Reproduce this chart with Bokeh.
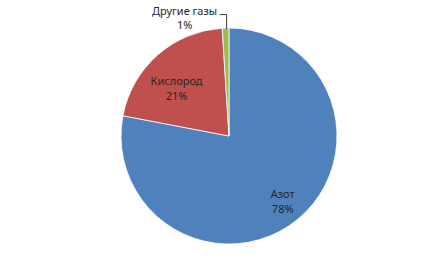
import math
from bokeh.plotting import figure
from bokeh.models import ColumnDataSource
from bokeh.core.properties import value
from bokeh.embed import file_html
from bokeh.resources import INLINE

# Composition of air
names = ["Азот", "Кислород", "Другие газы"]
shares = [78, 21, 1]
colors = ["#4F81BD", "#C0504D", "#9BBB59"]
pct_labels = ["78%", "21%", "1%"]

W, H = 432, 266
cx, cy, R = 228.5, 130.5, 108.0

p = figure(width=W, height=H, x_range=(0, W), y_range=(0, H),
           output_backend="svg", toolbar_location=None, min_border=0)
p.axis.visible = False
p.grid.visible = False
p.outline_line_color = None
p.background_fill_color = "white"

# Slices run clockwise from 12 o'clock
total = float(sum(shares))
starts, ends, mids = [], [], []
a = math.pi / 2
for s in shares:
    span = 2 * math.pi * s / total
    starts.append(a)
    ends.append(a - span)
    mids.append(a - span / 2)
    a -= span

src = ColumnDataSource(dict(start=starts, end=ends, color=colors))
p.wedge(x=cx, y=cy, radius=R, start_angle="start", end_angle="end",
        direction="clock", fill_color="color", line_color="white",
        line_width=0.8, source=src)

font = value("Noto Sans")
txt_color = "#262626"
fs = "11px"


def two_line(x, y, i, gap=7.5):
    p.text(x=[x], y=[y + gap], text=[names[i]], text_font=font,
           text_font_size=fs, text_color=txt_color,
           text_align="center", text_baseline="middle")
    p.text(x=[x], y=[y - gap], text=[pct_labels[i]], text_font=font,
           text_font_size=fs, text_color=txt_color,
           text_align="center", text_baseline="middle")


# Inside labels for the two large slices
label_r = [0.78, 0.66]
label_turn = [0.0, math.radians(6)]
for i in range(2):
    ang = mids[i] + label_turn[i]
    two_line(cx + R * label_r[i] * math.cos(ang),
             cy + R * label_r[i] * math.sin(ang), i)

# Outside label for the small slice, with a leader line
ex = cx + R * math.cos(mids[2])
ey = cy + R * math.sin(mids[2])
tx, ty = ex - 41.0, ey + 10.5
two_line(tx, ty, 2, gap=7.0)
lead_y = ty + 3.0
p.line(x=[tx + 35, ex + 1.0, ex + 1.0], y=[lead_y, lead_y, ey - 1],
       line_color="#404040", line_width=1)

open("out.html", "w").write(file_html(p, INLINE))
